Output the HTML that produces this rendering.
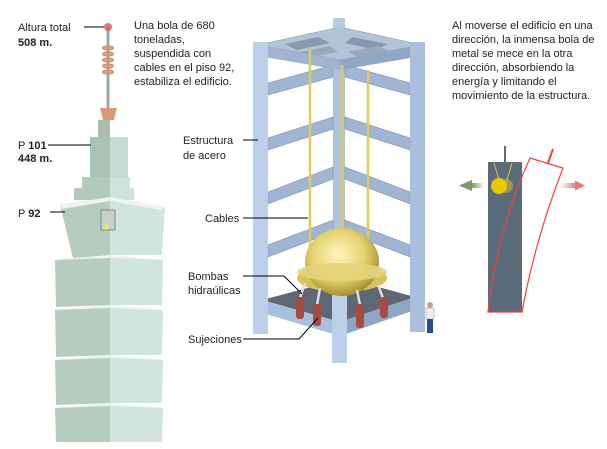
<!DOCTYPE html>
<html><head><meta charset="utf-8"><style>
html,body{margin:0;padding:0;background:#fff;}
svg{display:block;}
text{font-family:"Liberation Sans",Arial,sans-serif;font-size:11px;fill:#222;}
.b{font-weight:bold;}
</style></head><body>
<svg width="607" height="449" viewBox="0 0 607 449" xmlns="http://www.w3.org/2000/svg">
<defs>
<radialGradient id="ball" cx="0.45" cy="0.4" r="0.6"><stop offset="0" stop-color="#fff6c0"/><stop offset="0.6" stop-color="#e6d270"/><stop offset="1" stop-color="#a89030"/></radialGradient>
<linearGradient id="ga" x1="0" x2="1"><stop offset="0" stop-color="#7a9a60" stop-opacity="0"/><stop offset="1" stop-color="#7a9a60"/></linearGradient>
<linearGradient id="rg" x1="0" x2="1"><stop offset="0" stop-color="#e87a7a" stop-opacity="0"/><stop offset="1" stop-color="#e87a7a"/></linearGradient>
</defs>

<!-- TOWER -->
<g>
<line x1="108" y1="27" x2="108" y2="112" stroke="#9aa" stroke-width="3"/>
<circle cx="108" cy="27" r="4" fill="#e05050" opacity="0.8"/>
<g fill="none" stroke="#d49070" stroke-width="2">
<ellipse cx="108" cy="48" rx="5" ry="1.5"/><ellipse cx="108" cy="54" rx="5" ry="1.5"/><ellipse cx="108" cy="60" rx="5" ry="1.5"/><ellipse cx="108" cy="66" rx="5" ry="1.5"/><ellipse cx="108" cy="72" rx="5" ry="1.5"/></g>
<path d="M100 108 L117 108 L114 120 L103 120 Z" fill="#d99a7a"/>
<rect x="98" y="120" width="12" height="18" fill="#a8bcb0"/>
<rect x="90" y="137" width="20" height="50" fill="#a9c2b4"/>
<rect x="110" y="137" width="18" height="50" fill="#c4dcd2"/>
<rect x="82" y="177" width="28" height="12" fill="#b2cabd"/>
<rect x="110" y="177" width="20" height="12" fill="#cfe3da"/>
<rect x="74" y="188" width="36" height="12" fill="#b2cabd"/>
<rect x="110" y="188" width="24" height="12" fill="#cfe3da"/>
<path d="M60 205 L110 197 L110 255 L73 258 Z" fill="#b4cdbf"/>
<path d="M110 197 L165 207 L162 255 L110 255 Z" fill="#d0e5dc"/>
<path d="M55 260 L110 255 L110 305 L56 307 Z" fill="#b4cdbf"/>
<path d="M110 255 L163 260 L162 305 L110 305 Z" fill="#d0e5dc"/>
<path d="M55 310 L110 305 L110 355 L56 357 Z" fill="#b4cdbf"/>
<path d="M110 305 L163 310 L162 355 L110 355 Z" fill="#d0e5dc"/>
<path d="M55 360 L110 355 L110 403 L56 405 Z" fill="#b4cdbf"/>
<path d="M110 355 L163 360 L162 403 L110 403 Z" fill="#d0e5dc"/>
<path d="M55 408 L110 403 L110 442 L56 442 Z" fill="#b4cdbf"/>
<path d="M110 403 L163 408 L162 442 L110 442 Z" fill="#d0e5dc"/>
<g fill="#eef4f0"><path d="M60 205 L110 197 L165 207 L160 210 L110 201 L62 209Z"/>
<path d="M55 260 L110 255 L163 260 L110 258Z"/><path d="M55 310 L110 305 L163 310 L110 308Z"/><path d="M55 360 L110 355 L163 360 L110 358Z"/><path d="M55 408 L110 403 L163 408 L110 406Z"/></g>
<rect x="101" y="210" width="14" height="20" fill="#c8d0cc" stroke="#6a7a70" stroke-width="0.8"/>
<circle cx="106" cy="227" r="3" fill="#e8e070"/>
</g>

<!-- STRUCTURE -->
<g>
<polygon points="262,300 340,322 415,297 345,278" fill="#5f6775"/>
<polygon points="262,300 340,322 340,336 262,313" fill="#a9c0dc"/>
<polygon points="340,322 415,297 415,310 340,336" fill="#8ea6c4"/>
<rect x="333" y="22" width="12" height="300" fill="#aec3de"/>
<g fill="#9fb5d2" stroke="#7890b0" stroke-width="0.6">
<polygon points="268,83 333,65 333,77 268,95"/><polygon points="345,65 410,83 410,95 345,77"/>
<polygon points="268,138 333,117 333,129 268,150"/><polygon points="345,117 410,138 410,150 345,129"/>
<polygon points="268,192 333,167 333,179 268,204"/><polygon points="345,167 410,192 410,204 345,179"/>
<polygon points="268,245 333,220 333,232 268,257"/><polygon points="345,220 410,245 410,257 345,232"/>
</g>
<polygon points="258,45 340,27 422,45 340,60" fill="#b4c4d8" stroke="#7890b0" stroke-width="0.6"/>
<polygon points="285,44 318,37 330,43 297,50" fill="#8a98ae"/>
<polygon points="352,37 388,44 376,50 345,43" fill="#8a98ae"/>
<polygon points="300,52 330,46 338,52 310,57" fill="#9aa8bc"/>
<polygon points="348,52 378,46 390,51 358,57" fill="#9aa8bc"/>
<polygon points="258,45 340,60 340,70 258,56" fill="#a0b4d0"/>
<polygon points="340,60 422,45 422,56 340,70" fill="#90a6c6"/>
<rect x="333" y="18" width="12" height="10" fill="#b8cae0"/>
<rect x="253" y="42" width="15" height="292" fill="#bcd0ea"/>
<rect x="410" y="42" width="15" height="290" fill="#a9bfdc"/>
<rect x="332" y="290" width="15" height="73" fill="#bcd0ea"/>
<g stroke="#e0cc5a" stroke-width="2.5"><line x1="310" y1="50" x2="310" y2="275"/><line x1="342" y1="65" x2="342" y2="235"/><line x1="368" y1="70" x2="368" y2="272"/></g>
<ellipse cx="342" cy="278" rx="45" ry="14" fill="#d8c260"/>
<ellipse cx="342" cy="262" rx="37" ry="34" fill="url(#ball)"/>
<ellipse cx="342" cy="272" rx="45" ry="9" fill="#e6d47a" opacity="0.9"/>
<g stroke="#d8dde6" stroke-width="2.5"><line x1="305" y1="283" x2="300" y2="298"/><line x1="320" y1="288" x2="317" y2="305"/><line x1="357" y1="290" x2="360" y2="305"/><line x1="378" y1="285" x2="383" y2="298"/></g>
<g fill="#a84a40"><rect x="296" y="297" width="8" height="22" rx="3"/><rect x="313" y="304" width="8" height="22" rx="3"/><rect x="356" y="304" width="8" height="24" rx="3"/><rect x="380" y="297" width="8" height="21" rx="3"/></g>
<g><circle cx="430" cy="305" r="3" fill="#c8a080"/><rect x="426" y="308" width="8" height="11" fill="#eee" stroke="#999" stroke-width="0.5"/><rect x="427" y="319" width="6" height="14" fill="#2a4a9a"/></g>
</g>

<!-- RIGHT DIAGRAM -->
<rect x="488" y="162" width="34" height="150" fill="#5a6b79"/>
<line x1="505" y1="146" x2="505" y2="162" stroke="#5a6b79" stroke-width="2"/>
<path d="M488 312 Q497 230 530 158 L563 168 Q535 240 522 312 Z" fill="none" stroke="#ee4040" stroke-width="1.2"/>
<line x1="548" y1="163" x2="553" y2="149" stroke="#ee4040" stroke-width="2"/>
<line x1="494" y1="163" x2="500" y2="183" stroke="#d8c040" stroke-width="1"/><line x1="512" y1="163" x2="506" y2="183" stroke="#d8c040" stroke-width="1"/>
<circle cx="506" cy="186" r="7" fill="#c8b040" opacity="0.6"/>
<circle cx="499" cy="186" r="8" fill="#e8c800"/>
<rect x="472" y="183" width="12" height="5" fill="url(#ga)" transform="rotate(180 478 185.5)"/>
<polygon points="459,185.5 472,180 472,191" fill="#7a9a60"/>
<rect x="560" y="183" width="16" height="5" fill="url(#rg)"/>
<polygon points="585,185.5 575,180.5 575,190.5" fill="#e87a7a"/>

<!-- LABELS -->
<g stroke="#000" stroke-width="1" fill="none">
<line x1="84" y1="27" x2="104" y2="27"/>
<line x1="48" y1="145" x2="91" y2="145"/>
<line x1="50" y1="212" x2="65" y2="212"/>
<line x1="243" y1="140" x2="258" y2="140"/>
<line x1="243" y1="218" x2="308" y2="218"/>
<polyline points="243,276 284,276 302,294"/>
<polyline points="243,339 299,339 318,318"/>
</g>
<text x="18" y="31">Altura total</text>
<text x="18" y="46" class="b">508 m.</text>
<text x="134" y="29">Una bola de 680</text>
<text x="134" y="43">toneladas,</text>
<text x="134" y="57">suspendida con</text>
<text x="134" y="71">cables en el piso 92,</text>
<text x="134" y="85">estabiliza el edificio.</text>
<text x="18" y="149">P <tspan class="b">101</tspan></text>
<text x="18" y="162" class="b">448 m.</text>
<text x="18" y="217">P <tspan class="b">92</tspan></text>
<text x="183" y="144">Estructura</text>
<text x="183" y="159">de acero</text>
<text x="205" y="222">Cables</text>
<text x="188" y="280">Bombas</text>
<text x="188" y="294">hidraúlicas</text>
<text x="188" y="343">Sujeciones</text>
<text x="452" y="29">Al moverse el edificio en una</text>
<text x="452" y="43">dirección, la inmensa bola de</text>
<text x="452" y="57">metal se mece en la otra</text>
<text x="452" y="71">dirección, absorbiendo la</text>
<text x="452" y="85">energía y limitando el</text>
<text x="452" y="99">movimiento de la estructura.</text>
</svg>
</body></html>
